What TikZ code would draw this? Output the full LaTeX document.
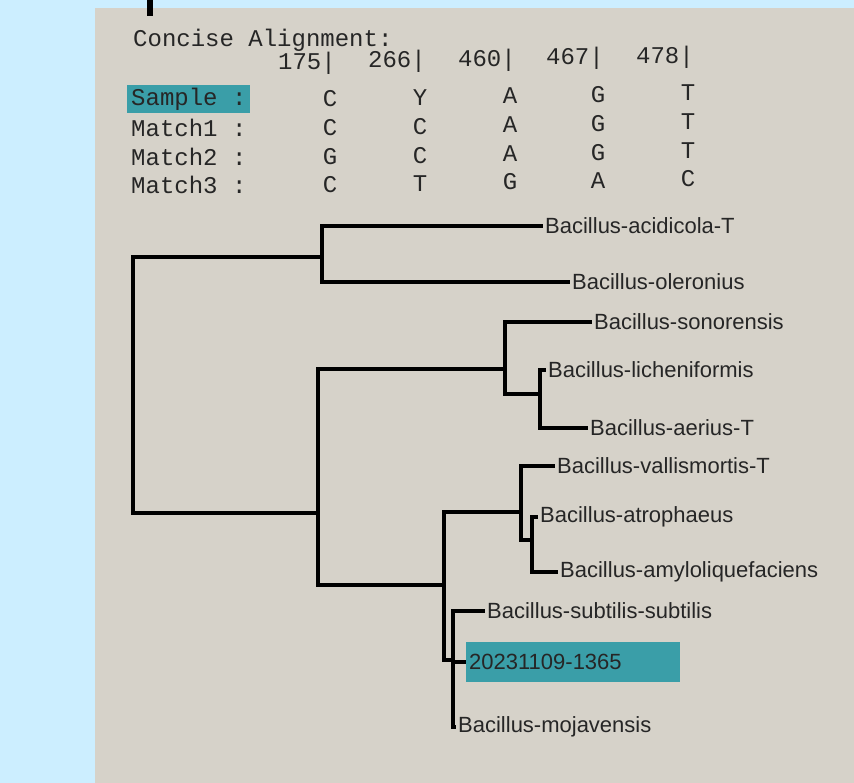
\documentclass[tikz,border=0pt]{standalone}
\usepackage{fontspec}
\setmainfont{Liberation Sans}
\newfontfamily\alnfont{Liberation Mono}
\usetikzlibrary{positioning}
\definecolor{pagebg}{RGB}{204,238,255}
\definecolor{paper}{RGB}{214,210,201}
\definecolor{marker}{RGB}{58,158,168}
\definecolor{ink}{RGB}{38,38,38}

\begin{document}
\begin{tikzpicture}[
    x=1pt, y=-1pt,
    branch/.style={line width=3.5pt, black},
    leaf/.style={anchor=west, inner sep=2pt, text=ink, font=\fontsize{22}{26}\selectfont},
    aln/.style={text=ink, inner sep=0pt, font=\alnfont\fontsize{24}{28}\selectfont},
    hilite/.style={fill=marker}
]
    \useasboundingbox (0,0) rectangle (854,783);
    \fill[pagebg] (0,0) rectangle (854,783);
    \fill[paper] (95,8) rectangle (854,783);
    \fill[black] (147,0) rectangle (153,16);

    % alignment table
    \node[aln, anchor=west] (title) at (133,40) {Concise Alignment:};
    \node[aln, hilite, anchor=west, inner xsep=4pt, inner ysep=3pt] (rs) at (127,99) {Sample :};
    \node[aln, anchor=west] (r1) at (131,128) {Match1 :};
    \node[aln, anchor=west] (r2) at (131,157) {Match2 :};
    \node[aln, anchor=west] (r3) at (131,185) {Match3 :};
    \foreach \x/\n/\a/\b/\c/\d/\dy in {330/175/C/C/G/C/0, 420/266/Y/C/C/T/1.5,
        510/460/A/A/A/G/3, 598/467/G/G/G/A/4.5, 688/478/T/T/T/C/6} {
        \node[aln, anchor=east] (h\n) at (\x+6,63-\dy) {\n|};
        \node[aln] (s\n) at (\x,99-\dy) {\a};
        \node[aln] (m1\n) at (\x,128-\dy) {\b};
        \node[aln] (m2\n) at (\x,157-\dy) {\c};
        \node[aln] (m3\n) at (\x,185-\dy) {\d};
    }

    % tree
    \coordinate (root) at (133,385);
    \coordinate (nA) at (322,257);
    \coordinate (nB) at (318,513);
    \coordinate (nC) at (505,369);
    \coordinate (nD) at (540,394);
    \coordinate (nE) at (444,585);
    \coordinate (nF) at (521,512);
    \coordinate (nG) at (532,540);
    \coordinate (nH) at (453,660);

    \node[leaf] (acid) at (543,226) {Bacillus-acidicola-T};
    \node[leaf] (oler) at (570,282) {Bacillus-oleronius};
    \node[leaf] (sono) at (592,322) {Bacillus-sonorensis};
    \node[leaf] (lich) at (546,370) {Bacillus-licheniformis};
    \node[leaf] (aeri) at (588,428) {Bacillus-aerius-T};
    \node[leaf] (vall) at (555,466) {Bacillus-vallismortis-T};
    \node[leaf] (atro) at (538,517) {Bacillus-atrophaeus};
    \node[leaf] (amyl) at (558,572) {Bacillus-amyloliquefaciens};
    \node[leaf] (subt) at (485,611) {Bacillus-subtilis-subtilis};
    \node[leaf, hilite, inner sep=3pt, text width=208pt, minimum height=40pt] (samp) at (466,662) {20231109-1365};
    \node[leaf] (moja) at (456,727) {Bacillus-mojavensis};

    \draw[branch] (root) |- (nA);
    \draw[branch] (root) |- (nB);
    \draw[branch] (nA) |- (acid.west);
    \draw[branch] (nA) |- (oler.west);
    \draw[branch] (nB) |- (nC);
    \draw[branch] (nB) |- (nE);
    \draw[branch] (nC) |- (sono.west);
    \draw[branch] (nC) |- (nD);
    \draw[branch] (nD) |- (lich.west);
    \draw[branch] (nD) |- (aeri.west);
    \draw[branch] (nE) |- (nF);
    \draw[branch] (nE) |- (nH);
    \draw[branch] (nF) |- (vall.west);
    \draw[branch] (nF) |- (nG);
    \draw[branch] (nG) |- (atro.west);
    \draw[branch] (nG) |- (amyl.west);
    \draw[branch] (nH) |- (subt.west);
    \draw[branch] (nH) |- (samp.west);
    \draw[branch] (nH) |- (moja.west);
\end{tikzpicture}
\end{document}
